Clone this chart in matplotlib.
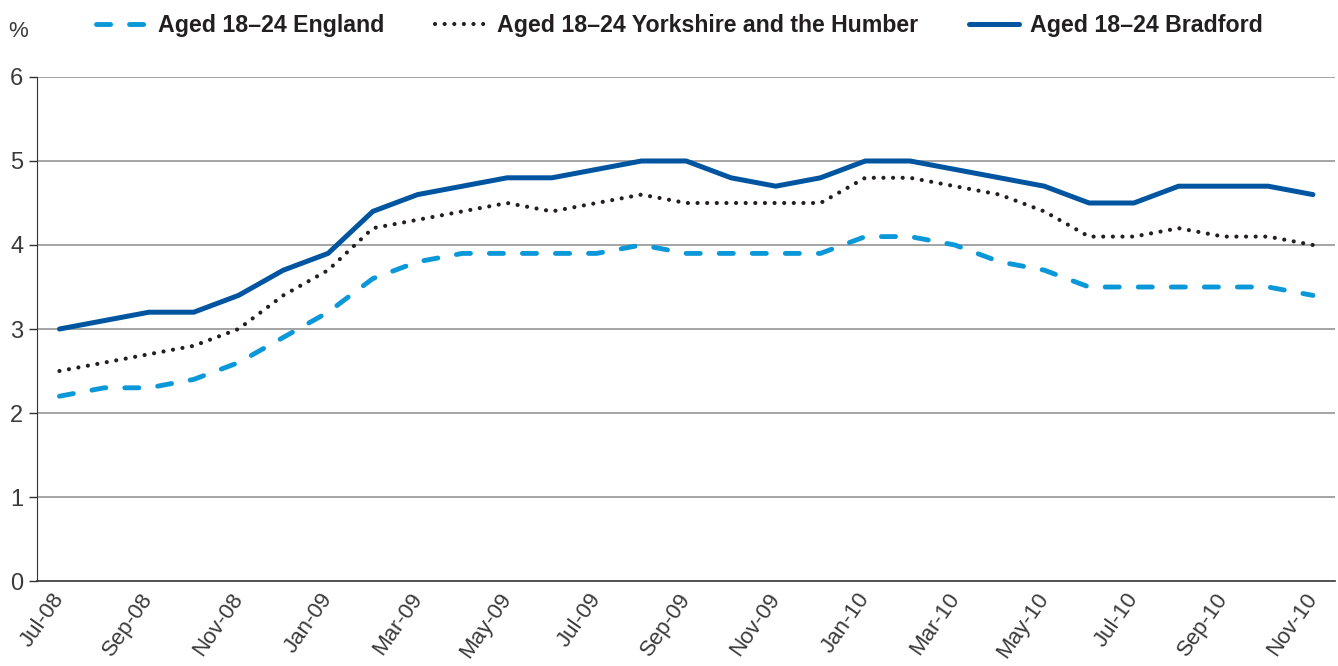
import numpy as np
import matplotlib.pyplot as plt

plt.rcParams['font.family'] = ['Liberation Sans', 'DejaVu Sans']

months = ['Jul-08', 'Aug-08', 'Sep-08', 'Oct-08', 'Nov-08', 'Dec-08',
          'Jan-09', 'Feb-09', 'Mar-09', 'Apr-09', 'May-09', 'Jun-09',
          'Jul-09', 'Aug-09', 'Sep-09', 'Oct-09', 'Nov-09', 'Dec-09',
          'Jan-10', 'Feb-10', 'Mar-10', 'Apr-10', 'May-10', 'Jun-10',
          'Jul-10', 'Aug-10', 'Sep-10', 'Oct-10', 'Nov-10']
england = [2.2, 2.3, 2.3, 2.4, 2.6, 2.9, 3.2, 3.6, 3.8, 3.9, 3.9, 3.9, 3.9, 4.0, 3.9,
           3.9, 3.9, 3.9, 4.1, 4.1, 4.0, 3.8, 3.7, 3.5, 3.5, 3.5, 3.5, 3.5, 3.4]
yorkshire = [2.5, 2.6, 2.7, 2.8, 3.0, 3.4, 3.7, 4.2, 4.3, 4.4, 4.5, 4.4, 4.5, 4.6, 4.5,
             4.5, 4.5, 4.5, 4.8, 4.8, 4.7, 4.6, 4.4, 4.1, 4.1, 4.2, 4.1, 4.1, 4.0]
bradford = [3.0, 3.1, 3.2, 3.2, 3.4, 3.7, 3.9, 4.4, 4.6, 4.7, 4.8, 4.8, 4.9, 5.0, 5.0,
            4.8, 4.7, 4.8, 5.0, 5.0, 4.9, 4.8, 4.7, 4.5, 4.5, 4.7, 4.7, 4.7, 4.6]
yticks = [0, 1, 2, 3, 4, 5, 6]

x = np.arange(len(months))

fig = plt.figure(figsize=(13.38, 6.66), dpi=100)
ax = fig.add_axes([0.0277, 0.1276, 0.9703, 0.7568])

for y in yticks[1:]:
    ax.axhline(y, color='#8c8c8c', lw=1.1, zorder=1)

ax.plot(x, england, color='#0a98d8', lw=3.5, dashes=(2.9, 3.9), dash_capstyle='round',
        label='Aged 18\u201324 England', zorder=3)
ax.plot(x, yorkshire, color='#231f20', lw=3.0, dashes=(0.01, 2.3), dash_capstyle='round',
        label='Aged 18\u201324 Yorkshire and the Humber', zorder=3)
ax.plot(x, bradford, color='#0055a0', lw=3.6, label='Aged 18\u201324 Bradford',
        solid_capstyle='round', zorder=3)

ax.set_xlim(-0.5, len(months) - 0.5)
ax.set_ylim(0, 6)
ax.set_yticks(yticks)
ax.set_yticklabels([str(v) for v in yticks], fontsize=17, color='#3a3a3a')
ax.set_xticks(x[::2])
ax.set_xticklabels(months[::2], rotation=55, ha='right', va='center',
                   rotation_mode='anchor', fontsize=16, color='#3a3a3a')
ax.tick_params(axis='x', length=0, pad=10)
ax.tick_params(axis='y', length=6, width=1, color='#333333', pad=4)

for s in ['top', 'right']:
    ax.spines[s].set_visible(False)
ax.spines['left'].set_color('#333333')
ax.spines['bottom'].set_color('#333333')
ax.spines['bottom'].set_linewidth(1.2)

fig.text(0.006, 0.953, '%', fontsize=16, color='#3a3a3a', va='center')

leg = ax.legend(loc='center', bbox_to_anchor=(0.495, 1.1025), ncol=3, frameon=False,
                fontsize=16.7, handlelength=2.15, columnspacing=2.2, handletextpad=0.5)
for t in leg.get_texts():
    t.set_fontweight('bold')
    t.set_color('#231f20')

fig.savefig('out.png', dpi=100)
